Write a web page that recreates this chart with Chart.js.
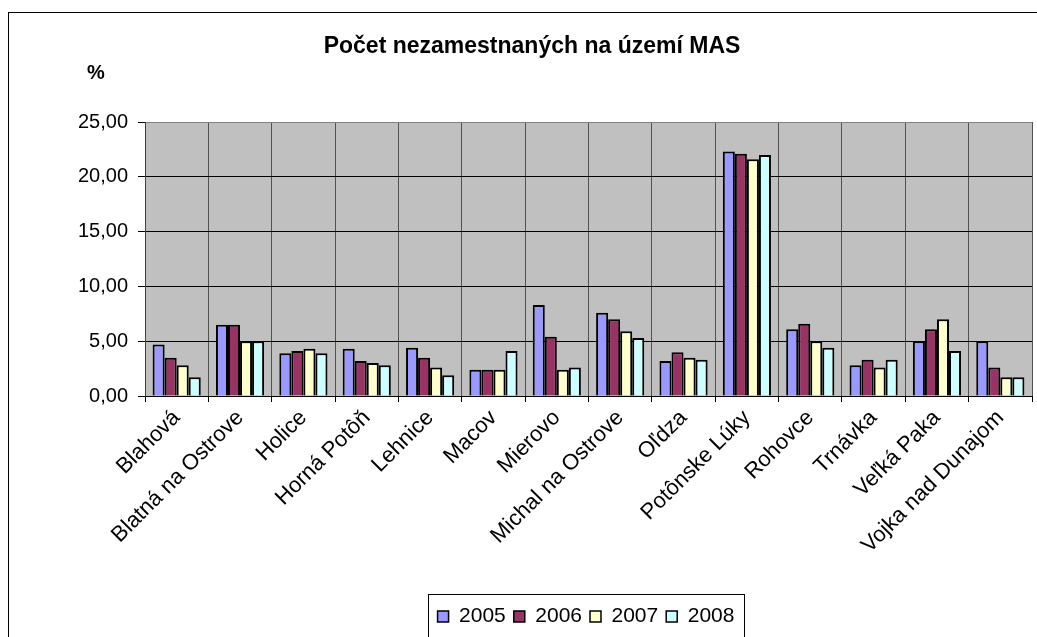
<!DOCTYPE html>
<html>
<head>
<meta charset="utf-8">
<script src="https://cdn.jsdelivr.net/npm/chart.js@4"></script>
<style>
  body { margin: 0; background: #ffffff; }
  #wrap { width: 1037px; height: 637px; }
</style>
</head>
<body>
<div id="wrap"><canvas id="myChart" width="1037" height="637"></canvas></div>
<script>
// Data
var obce = ['Blahová', 'Blatná na Ostrove', 'Holice', 'Horná Potôň', 'Lehnice', 'Macov', 'Mierovo',
    'Michal na Ostrove', 'Oľdza', 'Potônske Lúky', 'Rohovce', 'Trnávka', 'Veľká Paka', 'Vojka nad Dunajom'];
var roky = ['2005', '2006', '2007', '2008'];
var data2005 = [4.7, 6.5, 3.9, 4.3, 4.4, 2.4, 8.3, 7.6, 3.2, 22.3, 6.1, 2.8, 5.0, 5.0];
var data2006 = [3.5, 6.5, 4.1, 3.2, 3.5, 2.4, 5.4, 7.0, 4.0, 22.1, 6.6, 3.3, 6.1, 2.6];
var data2007 = [2.8, 5.0, 4.3, 3.0, 2.6, 2.4, 2.4, 5.9, 3.5, 21.6, 5.0, 2.6, 7.0, 1.7];
var data2008 = [1.7, 5.0, 3.9, 2.8, 1.9, 4.1, 2.6, 5.3, 3.3, 22.0, 4.4, 3.3, 4.1, 1.7];
var farby = ['#9999FF', '#993366', '#FFFFCC', '#CCFFFF'];

var FONT = 'Arial, "Liberation Sans", sans-serif';
var LEGEND_SHIFT = 140; // legend sits right of centre in the original

// gray plot background, outer frame, title, % label and legend frame
var extras = {
    id: 'extras',
    afterLayout: function (chart) {
        chart.legend.left += LEGEND_SHIFT;
    },
    beforeDraw: function (chart) {
        var ctx = chart.ctx, a = chart.chartArea;
        ctx.save();
        ctx.fillStyle = '#C0C0C0';
        ctx.fillRect(a.left, a.top, a.right - a.left, a.bottom - a.top);
        ctx.restore();
    },
    afterDraw: function (chart) {
        var ctx = chart.ctx;
        ctx.save();
        ctx.strokeStyle = '#000000';
        ctx.lineWidth = 1;
        ctx.strokeRect(8.5, 12.5, 1100, 700);

        ctx.fillStyle = '#000000';
        ctx.textBaseline = 'middle';
        ctx.textAlign = 'center';
        ctx.font = 'bold 23px ' + FONT;
        ctx.fillText('Počet nezamestnaných na území MAS', 532, 47);
        ctx.font = 'bold 20px ' + FONT;
        ctx.fillText('%', 96, 73);

        var boxes = chart.legend.legendHitBoxes;
        if (boxes && boxes.length) {
            var l = boxes[0].left - 10;
            var r = boxes[boxes.length - 1].left + boxes[boxes.length - 1].width + 9;
            var t = boxes[0].top - 12;
            ctx.strokeStyle = '#000000';
            ctx.strokeRect(Math.round(l) + 0.5, Math.round(t) + 0.5, Math.round(r - l), 80);
        }
        ctx.restore();
    }
};

var ctx = document.getElementById('myChart').getContext('2d');

var myBarChart = new Chart(ctx, {
    type: 'bar',
    data: {
        labels: obce,
        datasets: [
            { label: roky[0], data: data2005, backgroundColor: farby[0] },
            { label: roky[1], data: data2006, backgroundColor: farby[1] },
            { label: roky[2], data: data2007, backgroundColor: farby[2] },
            { label: roky[3], data: data2008, backgroundColor: farby[3] }
        ]
    },
    options: {
        responsive: false,
        animation: false,
        layout: { padding: { top: 122, right: 5, left: 0, bottom: 0 } },
        datasets: {
            bar: {
                borderColor: '#000000',
                borderWidth: 2,
                categoryPercentage: 0.76,
                barPercentage: 1.0
            }
        },
        plugins: {
            title: { display: false },
            tooltip: { enabled: false },
            legend: {
                position: 'bottom',
                labels: {
                    color: '#000000',
                    font: { family: FONT, size: 21 },
                    boxWidth: 11,
                    boxHeight: 11,
                    padding: 8,
                    generateLabels: function (chart) {
                        return chart.data.datasets.map(function (ds, i) {
                            return {
                                text: ds.label,
                                fillStyle: ds.backgroundColor,
                                strokeStyle: '#000000',
                                lineWidth: 1.5,
                                fontColor: '#000000',
                                datasetIndex: i,
                                hidden: false
                            };
                        });
                    }
                }
            }
        },
        scales: {
            x: {
                afterFit: function (scale) { scale.height = 202; },
                grid: {
                    offset: true,
                    color: '#505050',
                    tickColor: '#000000',
                    tickLength: 6,
                    lineWidth: 1
                },
                border: { color: '#000000', width: 1 },
                ticks: {
                    color: '#000000',
                    font: { family: FONT, size: 22 },
                    minRotation: 45,
                    maxRotation: 45,
                    autoSkip: false,
                    padding: 3
                }
            },
            y: {
                min: 0,
                max: 25,
                afterFit: function (scale) { scale.width = 145; },
                grid: {
                    color: function (c) { return c.tick && c.tick.value === 25 ? '#808080' : '#000000'; },
                    tickColor: '#000000',
                    tickLength: 7,
                    lineWidth: 1
                },
                border: { color: '#404040', width: 1 },
                ticks: {
                    stepSize: 5,
                    color: '#000000',
                    font: { family: FONT, size: 20 },
                    padding: 10,
                    callback: function (v) { return v.toFixed(2).replace('.', ','); }
                }
            }
        }
    },
    plugins: [extras]
});
</script>
</body>
</html>
